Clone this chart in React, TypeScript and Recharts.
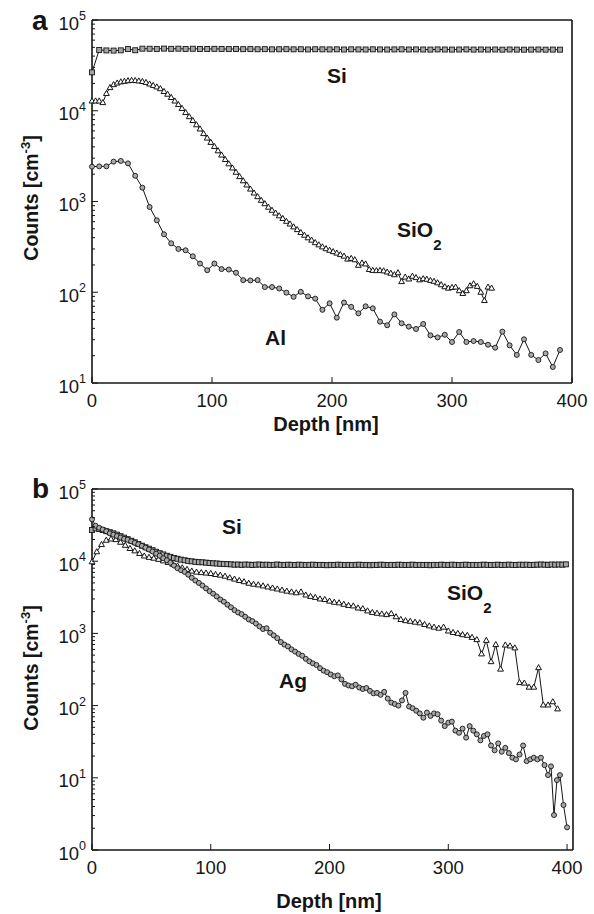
import { LineChart, Line, XAxis, YAxis } from "recharts";

// ---- panel a ----
const topDepthSiAl = [
  0, 6, 12, 18, 24, 30, 36, 42, 48, 54, 60, 66, 72, 78, 84, 90, 96, 102, 108, 114, 120, 126, 132, 138, 144, 150,
  156, 162, 168, 174, 180, 186, 192, 198, 204, 210, 216, 222, 228, 234, 240, 246, 252, 258, 264, 270, 276, 282,
  288, 294, 300, 306, 312, 318, 324, 330, 336, 342, 348, 354, 360, 366, 372, 378, 384, 390,
];
const topSi = [
  26500, 46700, 46200, 46000, 46300, 47800, 46400, 48300, 48200, 48000,
  48400, 48100, 48300, 48000, 48200, 48000, 47900, 48100, 48000, 47800,
  47900, 47700, 47800, 47600, 47700, 47500, 47600, 47700, 47500, 47600,
  47400, 47600, 47500, 47400, 47500, 47300, 47500, 47400, 47300, 47500,
  47400, 47300, 47400, 47500, 47300, 47400, 47300, 47200, 47400, 47300,
  47200, 47300, 47400, 47200, 47300, 47200, 47300, 47100, 47300, 47200,
  47100, 47200, 47300, 47100, 47200, 47100,
];
const topAl = [
  2420, 2440, 2440, 2750, 2800, 2630, 1920, 1420, 870, 621,
  435, 346, 300, 290, 249, 207, 175, 207, 180, 178,
  164, 136, 135, 136, 114, 114, 110, 99, 89, 101,
  90, 85, 64, 75.5, 52.5, 77, 69, 58.6, 70, 66.5,
  47.4, 43.3, 57, 45.5, 41.8, 39.4, 44.7, 33.5, 31.8, 34,
  28.3, 36.5, 28.3, 29, 28.3, 26.4, 24.5, 36.8, 26, 20.4,
  30.3, 20.4, 17.9, 21.2, 15, 23.1,
];
const topDepthOx = [
  0, 3, 6, 9, 12, 15, 18, 21, 24, 27, 30, 33, 36, 39, 42, 45, 48, 51, 54, 57, 60, 63, 66, 69, 72, 75, 78, 81, 84,
  87, 90, 93, 96, 99, 102, 105, 108, 111, 114, 117, 120, 123, 126, 129, 132, 135, 138, 141, 144, 147, 150, 153,
  156, 159, 162, 165, 168, 171, 174, 177, 180, 183, 186, 189, 192, 195, 198, 201, 204, 207, 210, 213, 216, 219,
  222, 225, 228, 231, 234, 237, 240, 243, 246, 249, 252, 255, 258, 261, 264, 267, 270, 273, 276, 279, 282, 285,
  288, 291, 294, 297, 300, 303, 306, 309, 312, 315, 318, 321, 324, 327, 330, 333,
];
const topOx = [
  12800, 12800, 12800, 12300, 15500, 18000, 19400, 20200, 20800, 21100,
  21400, 21600, 21500, 21300, 21000, 20500, 19700, 19000, 18300, 17500,
  16300, 15200, 14000, 12800, 11700, 10600, 9550, 8600, 7800, 7000,
  6300, 5600, 5000, 4480, 4040, 3620, 3250, 2900, 2600, 2340,
  2100, 1880, 1690, 1520, 1370, 1240, 1130, 1030, 945, 865,
  800, 745, 695, 650, 605, 565, 525, 490, 455, 425,
  398, 375, 352, 333, 316, 302, 290, 280, 270, 260,
  250, 232, 236, 228, 198, 210, 205, 178, 174, 173,
  174, 172, 167, 162, 156, 164, 131, 147, 140, 150,
  145, 137, 141, 139, 135, 132, 127, 121, 115, 111,
  113, 114, 104, 97, 104, 118, 124, 116, 100, 81,
  114, 111,
];

// ---- panel b ----
const botDepthSi = [
  0, 3, 6, 9, 12, 15, 18, 21, 24, 27, 30, 33, 36, 39, 42, 45, 48, 51, 54, 57, 60, 63, 66, 69, 72, 75, 78, 81, 84,
  87, 90, 93, 96, 99, 102, 105, 108, 111, 114, 117, 120, 123, 126, 129, 132, 135, 138, 141, 144, 147, 150, 153,
  156, 159, 162, 165, 168, 171, 174, 177, 180, 183, 186, 189, 192, 195, 198, 201, 204, 207, 210, 213, 216, 219,
  222, 225, 228, 231, 234, 237, 240, 243, 246, 249, 252, 255, 258, 261, 264, 267, 270, 273, 276, 279, 282, 285,
  288, 291, 294, 297, 300, 303, 306, 309, 312, 315, 318, 321, 324, 327, 330, 333, 336, 339, 342, 345, 348, 351,
  354, 357, 360, 363, 366, 369, 372, 375, 378, 381, 384, 387, 390, 393, 396, 399,
];
const botSi = [
  27000, 28500, 28000, 27000, 26000, 25200, 24300, 23300, 22200, 21200,
  20200, 19200, 18300, 17300, 16400, 15600, 14900, 14200, 13500, 12900,
  12400, 11900, 11500, 11100, 10800, 10500, 10300, 10100, 9950, 9800,
  9700, 9650, 9550, 9450, 9350, 9300, 9200, 9150, 9100,
  9050, 8950, 9000, 8900, 9000, 8950, 8850, 8950, 9000, 8900,
  8950, 8850, 8900, 9000, 8900, 8850, 8950, 8900, 8850, 8950,
  8900, 8850, 8900, 8950, 8850, 8900, 8850, 8800, 8900, 8850,
  8950, 8900, 8850, 8900, 8850, 8900, 8950, 8850, 8900, 8800,
  8900, 8850, 8950, 8900, 8850, 8900, 8850, 8950, 8900, 8850,
  8900, 8950, 8850, 8900, 8850, 8900, 8800, 8900, 8850, 8950,
  8900, 8850, 8950, 8900, 8850, 8900, 8950, 8850, 8900, 8850,
  8900, 8950, 8900, 8850, 8900, 8950, 8850, 8900, 8950, 8900,
  8850, 8950, 8900, 8950, 8850, 8900, 8950, 9000, 8950, 8900,
  9000, 8950, 9000, 8950, 9050,
];
const botDepthOx = [
  0, 4, 8, 12, 16, 20, 24, 28, 32, 36, 40, 44, 48, 52, 56, 60, 64, 68, 72, 76, 80, 84, 88, 92, 96, 100, 104, 108,
  112, 116, 120, 124, 128, 132, 136, 140, 144, 148, 152, 156, 160, 164, 168, 172, 176, 180, 184, 188, 192, 196,
  200, 204, 208, 212, 216, 220, 224, 228, 232, 236, 240, 244, 248, 252, 256, 260, 264, 268, 272, 276, 280, 284,
  288, 292, 296, 300, 304, 308, 312, 316, 320, 324, 328, 332, 336, 340, 344, 348, 352, 356, 360, 364, 368, 372,
  376, 380, 384, 388, 392,
];
const botOx = [
  9800, 13500, 17000, 19500, 20300, 19900, 18300, 16600, 15000, 13900,
  12800, 11800, 11300, 11000, 10600, 10100, 9600, 9100, 8600, 8100,
  7700, 7300, 7050, 6950, 6850, 6750, 6550, 6400, 6200, 5900,
  5650, 5400, 5200, 4950, 4800, 4700, 4550, 4400, 4250, 4120,
  3980, 3850, 3750, 3650, 3750, 3400, 3250, 3150, 3000, 2950,
  2800, 2700, 2650, 2530, 2440, 2400, 2250, 2200, 2050, 1950,
  1900, 1860, 1820, 1880, 1700, 1560, 1500, 1470, 1430, 1400,
  1330, 1270, 1220, 1180, 1220, 1080, 1030, 1000, 960, 940,
  880, 820, 520, 800, 406, 700, 320, 690, 670, 630,
  208, 205, 180, 180, 335, 102, 102, 113, 90,
];
const botDepthAg = [
  0, 3, 6, 9, 12, 15, 18, 21, 24, 27, 30, 33, 36, 39, 42, 45, 48, 51, 54, 57, 60, 63, 66, 69, 72, 75, 78, 81, 84,
  87, 90, 93, 96, 99, 102, 105, 108, 111, 114, 117, 120, 123, 126, 129, 132, 135, 138, 141, 144, 147, 150, 153,
  156, 159, 162, 165, 168, 171, 174, 177, 180, 183, 186, 189, 192, 195, 198, 201, 204, 207, 210, 213, 216, 219,
  222, 225, 228, 231, 234, 237, 240, 243, 246, 249, 252, 255, 258, 261, 264, 267, 270, 273, 276, 279, 282, 285,
  288, 291, 294, 297, 300, 303, 306, 309, 312, 315, 318, 321, 324, 327, 330, 333, 336, 339, 342, 345, 348, 351,
  354, 357, 360, 363, 366, 369, 372, 375, 378, 381, 384, 386.5, 389, 391.5, 394, 397, 400,
];
const botAg = [
  38000, 31000, 29000, 27500, 26000, 24300, 23300, 22300, 21300, 20400,
  19800, 18900, 18000, 17200, 16300, 15400, 14500, 13600, 12700, 11900,
  11000, 10300, 9500, 8700, 8000, 7500, 7100, 6500, 5900, 5400,
  5000, 4600, 4200, 3850, 3550, 3250, 2950, 2750, 2500, 2300,
  2100, 1950, 1850, 1700, 1560, 1480, 1370, 1250, 1150, 1180,
  1020, 940, 860, 760, 700, 660, 600, 560, 520, 490,
  445, 410, 385, 365, 330, 305, 290, 270, 255, 262,
  230, 200, 190, 185, 195, 178, 170, 175, 160, 148,
  150, 141, 155, 125, 110, 105, 100, 118, 150, 97,
  92, 85, 78, 68, 80, 72, 78, 76, 62, 52,
  58, 60, 45, 42, 48, 36, 52, 45, 40, 33,
  38, 40, 28, 24, 30, 23, 26, 22, 19, 18,
  21, 28, 17, 18, 19, 18, 19, 15,
  10.9, 14.4, 3.05, 9.3, 10.9, 4.2, 2.06,
];

const logTicks = [
  1, 2, 3, 4, 5, 6, 7, 8, 9, 10, 20, 30, 40, 50, 60, 70, 80, 90, 100, 200, 300, 400, 500, 600, 700, 800, 900,
  1000, 2000, 3000, 4000, 5000, 6000, 7000, 8000, 9000, 10000, 20000, 30000, 40000, 50000, 60000, 70000, 80000,
  90000, 100000,
];
const depthTicks = [0, 100, 200, 300, 400];

const FONT = "'Liberation Sans', Arial, Helvetica, sans-serif";
const INK = "#151515";

const zip = (ds: number[], vs: number[]) => ds.map((d, i) => ({ d, v: vs[i] }));

const isMajor = (v: number) => Math.abs(Math.log10(v) - Math.round(Math.log10(v))) < 1e-6;

function LeftTick(p: any) {
  const { x, y, payload } = p;
  const v = payload.value;
  const major = isMajor(v);
  return (
    <g>
      <line x1={x} x2={x + (major ? 6 : 3)} y1={y} y2={y} stroke={INK} strokeWidth={1} />
      {major && (
        <text x={x - 6} y={y + 9.5} textAnchor="end" fontSize={18.5} fill={INK} fontFamily={FONT}>
          10
          <tspan dy={-9.5} fontSize={12.5}>
            {Math.round(Math.log10(v))}
          </tspan>
        </text>
      )}
    </g>
  );
}

function RightTick(p: any) {
  const { x, y, payload } = p;
  const major = isMajor(payload.value);
  return <line x1={x} x2={x - (major ? 6 : 3)} y1={y} y2={y} stroke={INK} strokeWidth={1} />;
}

function BottomTick(p: any) {
  const { x, y, payload } = p;
  return (
    <g>
      <line x1={x} x2={x} y1={y} y2={y - 6} stroke={INK} strokeWidth={1} />
      <text x={x} y={y + 23.5} textAnchor="middle" fontSize={18.5} fill={INK} fontFamily={FONT}>
        {payload.value}
      </text>
    </g>
  );
}

function TopTick(p: any) {
  const { x, y } = p;
  return <line x1={x} x2={x} y1={y} y2={y + 6} stroke={INK} strokeWidth={1} />;
}

const squareDot = (p: any) =>
  p.cx == null ? <g key={`s${p.index}`} /> : (
    <rect key={`s${p.index}`} x={p.cx - 2.5} y={p.cy - 2.5} width={5} height={5} fill="#a5a5a5" stroke={INK} strokeWidth={0.9} />
  );
const circleDot = (p: any) =>
  p.cx == null ? <g key={`c${p.index}`} /> : (
    <circle key={`c${p.index}`} cx={p.cx} cy={p.cy} r={2.5} fill="#a8a8a8" stroke={INK} strokeWidth={0.9} />
  );
const triDot = (p: any) =>
  p.cx == null ? <g key={`t${p.index}`} /> : (
    <path
      key={`t${p.index}`}
      d={`M${p.cx},${p.cy - 3.1} L${p.cx + 2.9},${p.cy + 2} L${p.cx - 2.9},${p.cy + 2} Z`}
      fill="#ffffff"
      stroke={INK}
      strokeWidth={1}
    />
  );

const axisLine = { stroke: INK, strokeWidth: 1.6 };

type Series = { data: { d: number; v: number }[]; dot: (p: any) => any; name: string };

function Panel({ height, margin, xMax, yMin, series }: { height: number; margin: any; xMax: number; yMin: number; series: Series[] }) {
  const yTicks = logTicks.filter((t) => t >= yMin);
  const xTicks = depthTicks.filter((t) => t <= xMax);
  return (
    <LineChart width={594} height={height} margin={margin}>
      <XAxis xAxisId="b" dataKey="d" type="number" domain={[0, xMax]} ticks={xTicks} interval={0} height={1}
        tickSize={0} tickMargin={0} tickLine={false} axisLine={axisLine} tick={(p: any) => <BottomTick {...p} />} />
      <XAxis xAxisId="t" orientation="top" dataKey="d" type="number" domain={[0, xMax]} ticks={xTicks} interval={0} height={1}
        tickSize={0} tickMargin={0} tickLine={false} axisLine={axisLine} tick={(p: any) => <TopTick {...p} />} />
      <YAxis yAxisId="l" type="number" scale="log" domain={[yMin, 100000]} ticks={yTicks} interval={0} width={1}
        tickSize={0} tickMargin={0} tickLine={false} axisLine={axisLine} tick={(p: any) => <LeftTick {...p} />} />
      <YAxis yAxisId="r" orientation="right" type="number" scale="log" domain={[yMin, 100000]} ticks={yTicks} interval={0} width={1}
        tickSize={0} tickMargin={0} tickLine={false} axisLine={axisLine} tick={(p: any) => <RightTick {...p} />} />
      {series.map((s) => (
        <Line key={s.name} xAxisId="b" yAxisId="l" data={s.data} dataKey="v" type="linear" stroke={INK}
          strokeWidth={1} dot={s.dot} activeDot={false} isAnimationActive={false} />
      ))}
    </LineChart>
  );
}

function Overlay() {
  const bold = { fontFamily: FONT, fontWeight: 700, fill: INK } as const;
  return (
    <svg width={594} height={914} style={{ position: "absolute", left: 0, top: 0, pointerEvents: "none" }}>
      <text x={32} y={30} fontSize={28} {...bold}>a</text>
      <text x={32} y={498} fontSize={28} {...bold}>b</text>

      <text transform="translate(38,198) rotate(-90)" textAnchor="middle" fontSize={19.5} {...bold}>
        Counts [cm<tspan dy={-8} fontSize={13}>-3</tspan><tspan dy={8}>]</tspan>
      </text>
      <text transform="translate(38,668) rotate(-90)" textAnchor="middle" fontSize={19.5} {...bold}>
        Counts [cm<tspan dy={-8} fontSize={13}>-3</tspan><tspan dy={8}>]</tspan>
      </text>
      <text x={326} y={431} textAnchor="middle" fontSize={20} {...bold}>Depth [nm]</text>
      <text x={329} y={908} textAnchor="middle" fontSize={20} {...bold}>Depth [nm]</text>

      <text x={327} y={83} fontSize={21} {...bold}>Si</text>
      <text x={397} y={237} fontSize={21} {...bold}>SiO<tspan dy={13} fontSize={15}>2</tspan></text>
      <text x={265} y={345} fontSize={21} {...bold}>Al</text>

      <text x={222} y={534} fontSize={21} {...bold}>Si</text>
      <text x={447} y={600} fontSize={21} {...bold}>SiO<tspan dy={13} fontSize={15}>2</tspan></text>
      <text x={279} y={688} fontSize={21} {...bold}>Ag</text>
    </svg>
  );
}

export default function App() {
  const topSeries: Series[] = [
    { name: "Al", data: zip(topDepthSiAl, topAl), dot: circleDot },
    { name: "SiO2", data: zip(topDepthOx, topOx), dot: triDot },
    { name: "Si", data: zip(topDepthSiAl, topSi), dot: squareDot },
  ];
  const botSeries: Series[] = [
    { name: "SiO2", data: zip(botDepthOx, botOx), dot: triDot },
    { name: "Si", data: zip(botDepthSi, botSi), dot: squareDot },
    { name: "Ag", data: zip(botDepthAg, botAg), dot: circleDot },
  ];
  return (
    <div style={{ position: "absolute", left: 0, top: 0, width: 594, height: 914, background: "#fff", fontFamily: FONT }}>
      <div style={{ position: "absolute", left: 0, top: 0 }}>
        <Panel height={440} margin={{ top: 19, right: 21, bottom: 56, left: 91 }} xMax={400} yMin={10} series={topSeries} />
      </div>
      <div style={{ position: "absolute", left: 0, top: 460 }}>
        <Panel height={454} margin={{ top: 28, right: 20, bottom: 63, left: 91 }} xMax={405} yMin={1} series={botSeries} />
      </div>
      <Overlay />
    </div>
  );
}
